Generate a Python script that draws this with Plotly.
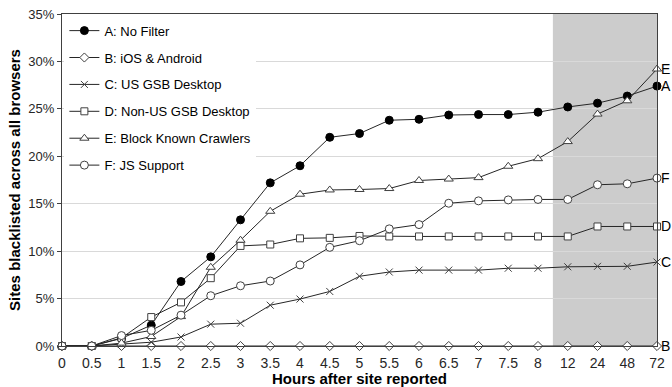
import plotly.graph_objects as go

hours = ["0", "0.5", "1", "1.5", "2", "2.5", "3", "3.5", "4", "4.5", "5", "5.5",
         "6", "6.5", "7", "7.5", "8", "12", "24", "48", "72"]

a_no_filter = [0, 0, 0.8, 2.2, 6.8, 9.4, 13.3, 17.2, 19.0, 22.0, 22.4, 23.8,
               23.9, 24.35, 24.4, 24.4, 24.65, 25.2, 25.6, 26.35, 27.4]
b_ios_android = [0] * 21
c_us_gsb = [0, 0, 0.2, 0.4, 0.95, 2.3, 2.4, 4.3, 4.95, 5.75, 7.35, 7.8,
            8.0, 8.0, 8.0, 8.2, 8.2, 8.35, 8.4, 8.4, 8.85]
d_nonus_gsb = [0, 0, 0.85, 3.05, 4.6, 7.15, 10.55, 10.7, 11.35, 11.4, 11.6, 11.55,
               11.55, 11.55, 11.55, 11.55, 11.55, 11.55, 12.6, 12.6, 12.6]
e_block_crawlers = [0, 0, 0.3, 1.0, 3.1, 8.3, 11.15, 14.2, 16.0, 16.45, 16.5, 16.6,
                    17.45, 17.6, 17.75, 18.95, 19.75, 21.55, 24.45, 25.85, 29.2]
f_js_support = [0, 0, 1.1, 1.65, 3.25, 5.3, 6.35, 6.85, 8.55, 10.4, 11.1, 12.35,
                12.8, 15.05, 15.3, 15.4, 15.45, 15.45, 17.0, 17.1, 17.7]

series = [
    ("A: No Filter", "A", a_no_filter, dict(symbol="circle", size=8, color="#000000",
                                             line=dict(color="#000000", width=1))),
    ("B: iOS & Android", "B", b_ios_android, dict(symbol="diamond", size=7, color="#ffffff",
                                                   line=dict(color="#404040", width=1))),
    ("C: US GSB Desktop", "C", c_us_gsb, dict(symbol="x-thin", size=7, color="#404040",
                                               line=dict(color="#404040", width=1))),
    ("D: Non-US GSB Desktop", "D", d_nonus_gsb, dict(symbol="square", size=7, color="#ffffff",
                                                      line=dict(color="#404040", width=1))),
    ("E: Block Known Crawlers", "E", e_block_crawlers, dict(symbol="triangle-up", size=8,
                                                             color="#ffffff",
                                                             line=dict(color="#404040", width=1))),
    ("F: JS Support", "F", f_js_support, dict(symbol="circle", size=8, color="#ffffff",
                                               line=dict(color="#404040", width=1))),
]

fig = go.Figure()

fig.add_shape(type="rect", xref="x", yref="y", x0=16.5, x1=20, y0=0, y1=35,
              fillcolor="#cccccc", line=dict(width=0), layer="below")

for name, short, vals, mk in series:
    fig.add_trace(go.Scatter(
        x=hours, y=vals, name=name, mode="lines+markers",
        line=dict(color="#262626", width=1),
        marker=mk, cliponaxis=False, legendgroup=short,
    ))
    fig.add_annotation(xref="paper", x=1, yref="y", y=vals[-1], text=short,
                       showarrow=False, xanchor="left", yanchor="middle", xshift=2,
                       font=dict(size=14, color="#000000"))

fig.update_layout(
    width=672, height=387,
    margin=dict(l=62, r=15, t=14, b=41),
    paper_bgcolor="#ffffff", plot_bgcolor="#ffffff",
    font=dict(family="Liberation Sans, Arial, sans-serif", color="#000000"),
    showlegend=True,
    legend=dict(x=0.004, y=0.995, xanchor="left", yanchor="top",
                bgcolor="#ffffff", borderwidth=0, font=dict(size=13),
                itemwidth=30, traceorder="grouped", tracegroupgap=7),
    xaxis=dict(type="category", range=[0, 20], showgrid=False,
               showline=True, linecolor="#404040", linewidth=1, mirror=True,
               ticks="outside", ticklen=4, tickcolor="rgba(0,0,0,0)",
               tickfont=dict(size=14, color="#262626"), ticklabeloverflow="allow",
               title=dict(text="<b>Hours after site reported</b>", font=dict(size=15),
                          standoff=7),
               automargin=False),
    yaxis=dict(range=[0, 35], tickvals=[0, 5, 10, 15, 20, 25, 30, 35],
               ticktext=["0%", "5%", "10%", "15%", "20%", "25%", "30%", "35%"],
               showgrid=True, gridcolor="#d9d9d9", gridwidth=1, zeroline=False,
               showline=True, linecolor="#404040", linewidth=1, mirror=True,
               ticks="outside", ticklen=4, tickcolor="#404040",
               tickfont=dict(size=13, color="#262626"), ticklabeloverflow="allow",
               title=dict(text="<b>Sites blacklisted across all browsers</b>",
                          font=dict(size=15), standoff=4),
               automargin=False),
)

fig.write_html("out.html",
               config={"displayModeBar": False},
               post_script="document.body.style.margin='0';"
                           "document.body.style.overflow='hidden';")
